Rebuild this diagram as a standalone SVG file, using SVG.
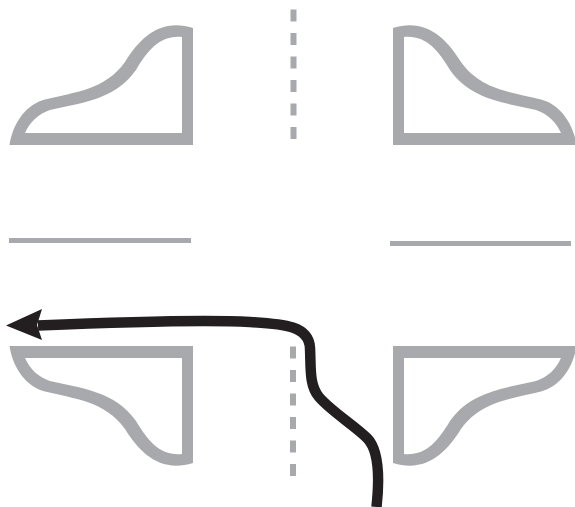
<svg xmlns="http://www.w3.org/2000/svg" width="575" height="507" viewBox="0 0 575 507">
<style>
.kerb{fill:#a7a9ac;fill-rule:evenodd}
.lane{stroke:#a7a9ac;stroke-width:5;fill:none}
.dash{stroke:#a7a9ac;stroke-width:6;fill:none;stroke-dasharray:12 11.500}
.route{stroke:#231f20;stroke-width:10.500;fill:none}
</style>
<defs>
<path id="corner" class="kerb" d="M193 145H9.500C13 122 27 104 45 99.500C75 92 105 90 125 62C140 38 160 18 193 28ZM182 133H25C30 122 38 114 50 110C80 103 115 100 136 70C148 50 160 35 182 37Z"/>
</defs>
<rect width="575" height="507" fill="#fff"/>
<g id="corner-top-left"><use href="#corner"/></g>
<g id="corner-top-right"><use href="#corner" transform="translate(586 0) scale(-1 1)"/></g>
<g id="corner-bottom-left"><use href="#corner" transform="translate(0 491) scale(1 -1)"/></g>
<g id="corner-bottom-right"><use href="#corner" transform="translate(586 491) scale(-1 -1)"/></g>
<g id="markings">
<path class="lane" d="M9 240.500H191"/>
<path class="lane" d="M390 243.500H571"/>
<path class="dash" d="M293.500 9.500V140"/>
<path class="dash" d="M293 346.500V477"/>
</g>
<g id="connectors">
<path class="route" d="M38 325.500C120 322 200 319 250 322C285 324 309 326 310 348C311 368 309 385 319 397C332 412 354 425 367 438C378 449 380 475 376.500 507"/>
<path fill="#231f20" d="M6 325.500L42 309L37 325L42 340Z"/>
</g>
</svg>
